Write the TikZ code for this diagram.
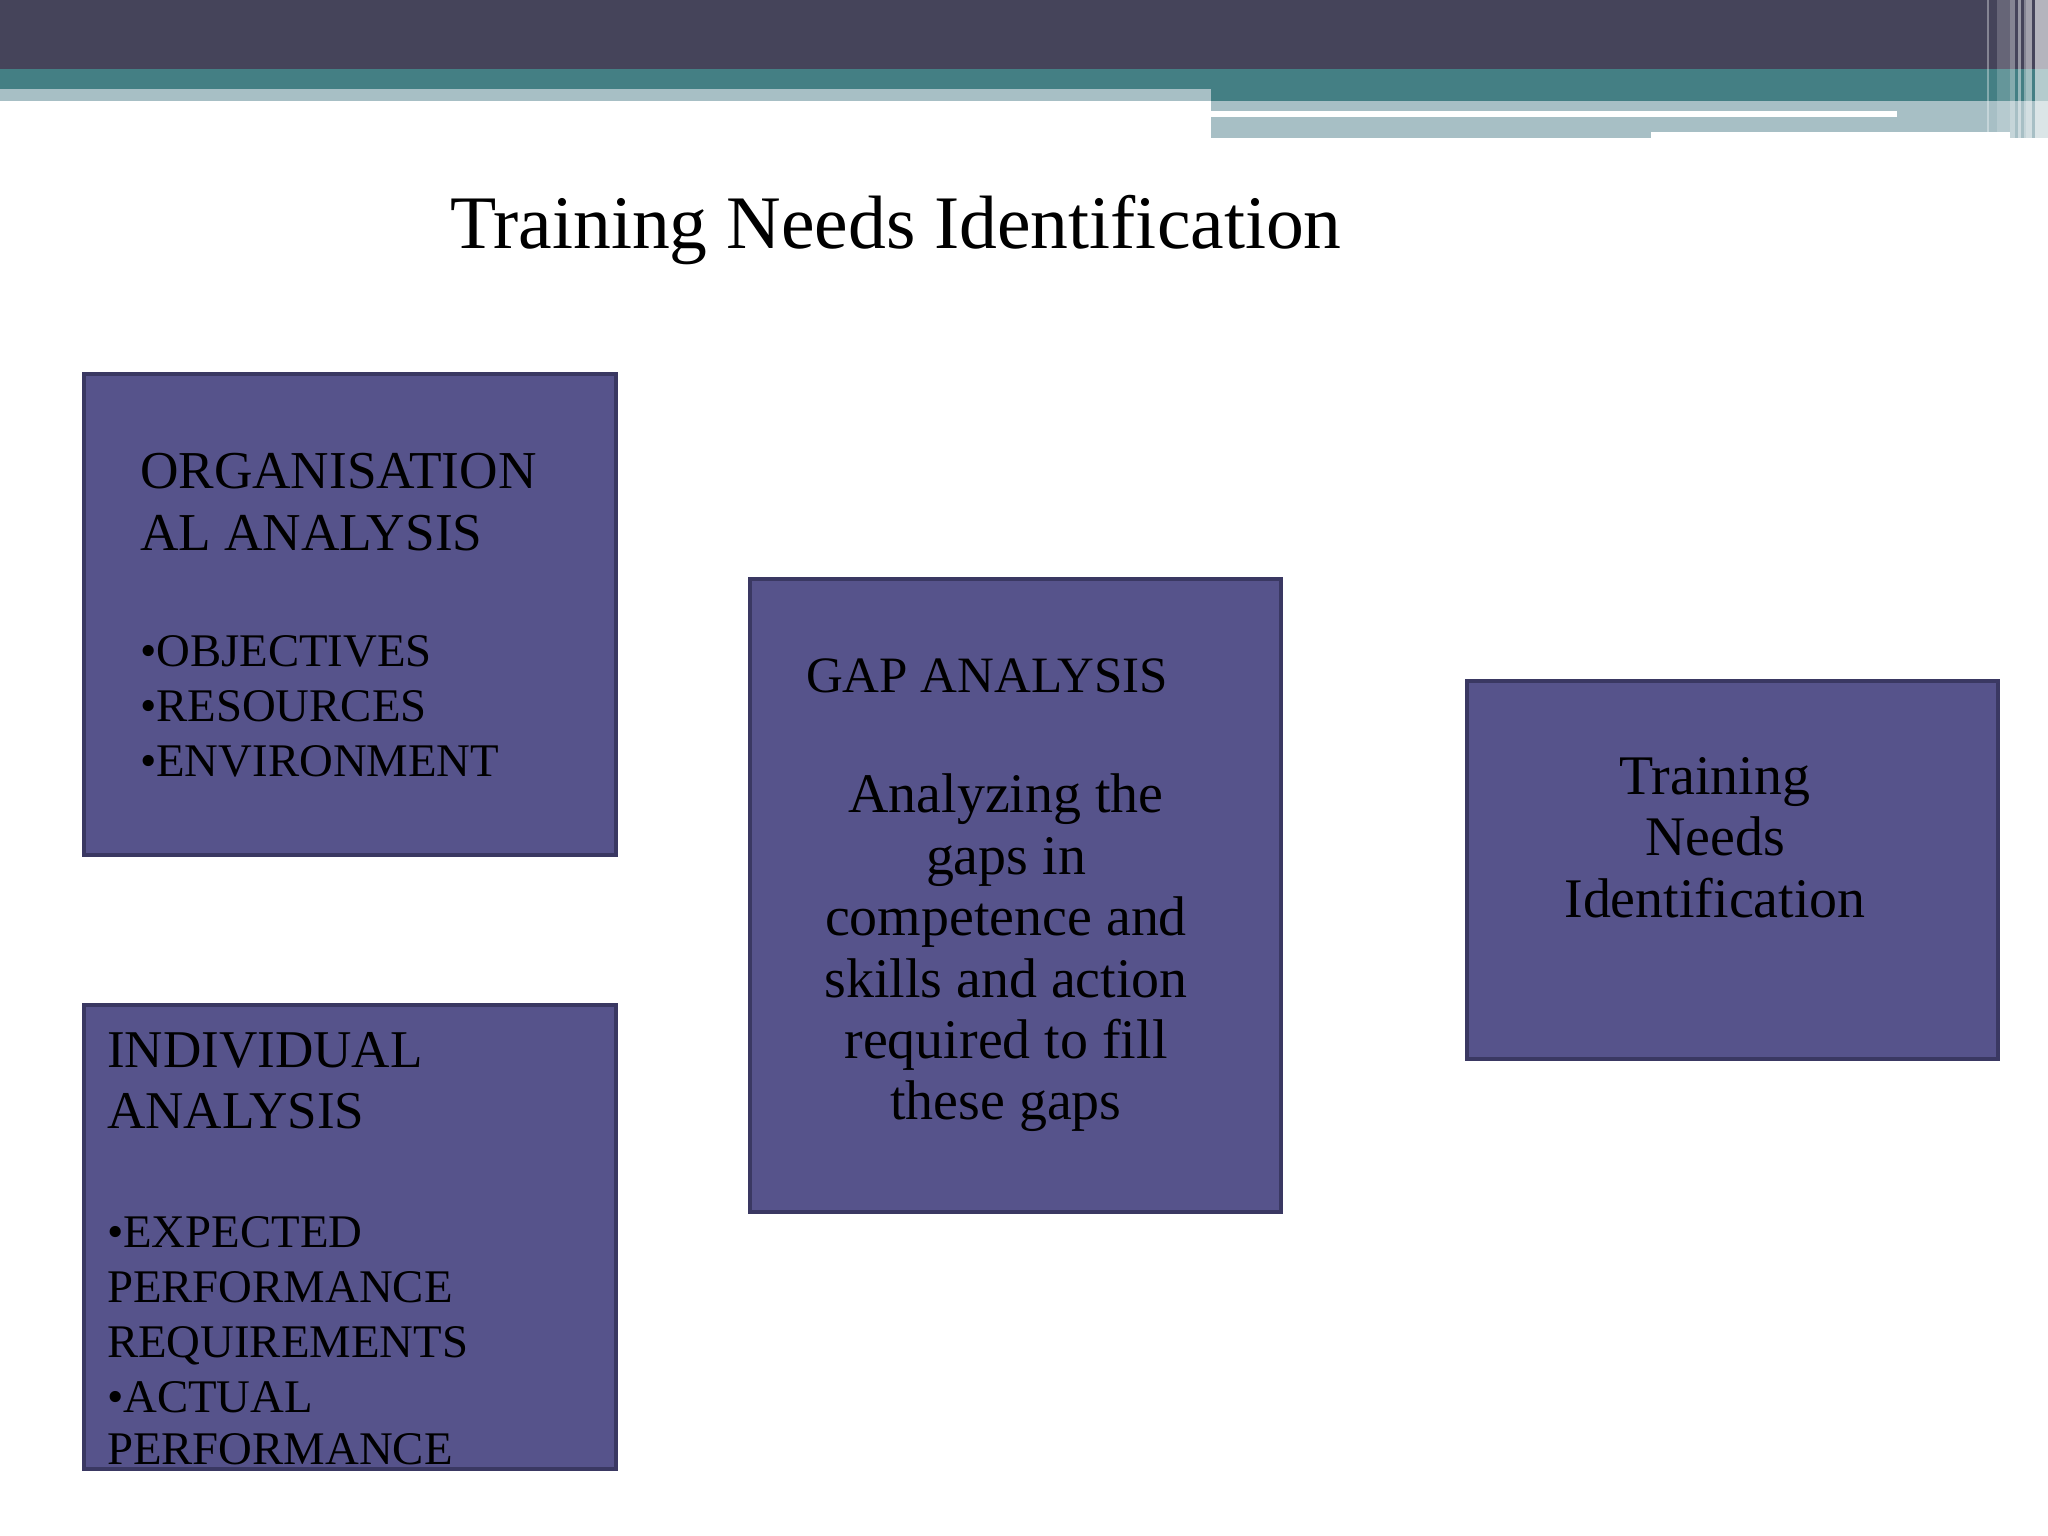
\documentclass[tikz,border=0pt]{standalone}
\usepackage{fontspec}
\setmainfont{Liberation Serif}
\definecolor{bandDark}{HTML}{45445A}
\definecolor{bandTeal}{HTML}{447F84}
\definecolor{bandLight}{HTML}{A7BFC5}
\definecolor{boxFill}{HTML}{56538B}
\definecolor{boxLine}{HTML}{3A3862}
\tikzset{
  panel/.style={fill=boxFill, draw=boxLine, line width=1pt},
  txt/.style={inner sep=0pt, outer sep=0pt, text=black},
  ttl/.style={txt, font=\fontsize{21.5}{25}\selectfont},
  headA/.style={txt, font=\fontsize{15.15}{18}\selectfont},
  bul/.style={txt, font=\fontsize{13.3}{16}\selectfont},
  headB/.style={txt, font=\fontsize{14.5}{17}\selectfont},
  body/.style={txt, font=\fontsize{15.9}{18}\selectfont},
  headD/.style={txt, font=\fontsize{15.1}{18}\selectfont},
  stripe/.style={fill=white, draw=none}
}
\begin{document}
\begin{tikzpicture}[x=0.01cm, y=-0.01cm]
\useasboundingbox (0,0) rectangle (2048,1536);
\fill[white] (0,0) rectangle (2048,1536);
% banner
\fill[bandDark] (0,0) rectangle (2048,69);
\fill[bandTeal] (0,69) rectangle (2048,101);
\fill[bandLight] (0,89) rectangle (1211,101);
\fill[bandLight] (1211,101) rectangle (2048,132);
\fill[bandLight] (1211,132) rectangle (1651,138);
\fill[bandLight] (2010,132) rectangle (2048,138);
\fill[white] (1211,111) rectangle (1897,117);
% right stripes
\fill[stripe, opacity=0.35] (1987,0) rectangle (1989,132);
\fill[stripe, opacity=0.18] (1997,0) rectangle (2010,132);
\fill[stripe, opacity=0.35] (2010,0) rectangle (2015,138);
\fill[stripe, opacity=0.45] (2018,0) rectangle (2021,138);
\fill[stripe, opacity=0.35] (2024,0) rectangle (2026,138);
\fill[stripe, opacity=0.5] (2026,0) rectangle (2032,138);
\fill[stripe, opacity=0.6] (2035,0) rectangle (2048,138);
% title
\node[ttl, anchor=base west] (title) at (450,248) {Training Needs Identification};
% box 1
\path[panel] (84,374) rectangle (616,855);
\node[headA, anchor=base west] (o1) at (140,488) {ORGANISATION};
\node[headA, anchor=base west] (o2) at (140,550) {AL ANALYSIS};
\node[bul, anchor=base west] (o3) at (140,666) {•OBJECTIVES};
\node[bul, anchor=base west] (o4) at (140,721) {•RESOURCES};
\node[bul, anchor=base west] (o5) at (140,776) {•ENVIRONMENT};
% box 2
\path[panel] (750,579) rectangle (1281,1212);
\node[headB, anchor=base west] (g0) at (806,692) {GAP ANALYSIS};
\node[body, anchor=base] (g1) at (1006,812) {Analyzing the};
\node[body, anchor=base] (g2) at (1006,874) {gaps in};
\node[body, anchor=base] (g3) at (1006,935) {competence and};
\node[body, anchor=base] (g4) at (1006,997) {skills and action};
\node[body, anchor=base] (g5) at (1006,1058) {required to fill};
\node[body, anchor=base] (g6) at (1006,1119) {these gaps};
% box 3
\path[panel] (1467,681) rectangle (1998,1059);
\node[body, anchor=base] (t1) at (1715,794) {Training};
\node[body, anchor=base] (t2) at (1715,855) {Needs};
\node[body, anchor=base] (t3) at (1715,917) {Identification};
% box 4
\path[panel] (84,1005) rectangle (616,1469);
\node[headD, anchor=base west] (i1) at (107,1067) {INDIVIDUAL};
\node[headD, anchor=base west] (i2) at (107,1128) {ANALYSIS};
\node[bul, anchor=base west] (i3) at (107,1247) {•EXPECTED};
\node[bul, anchor=base west] (i4) at (107,1302) {PERFORMANCE};
\node[bul, anchor=base west] (i5) at (107,1357) {REQUIREMENTS};
\node[bul, anchor=base west] (i6) at (107,1412) {•ACTUAL};
\node[bul, anchor=base west] (i7) at (107,1464) {PERFORMANCE};
\end{tikzpicture}
\end{document}
